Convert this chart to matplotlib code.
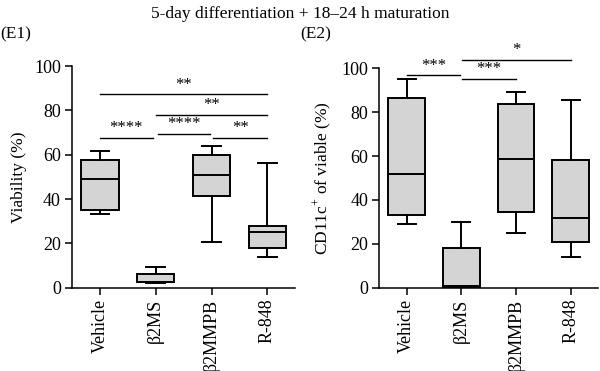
import matplotlib
matplotlib.use("Agg")
import matplotlib.pyplot as plt

plt.rcParams['font.family'] = ['Liberation Serif', 'DejaVu Serif']
plt.rcParams['mathtext.fontset'] = 'custom'
plt.rcParams['mathtext.rm'] = 'Liberation Serif'

groups = ['Vehicle', 'β2MS', 'β2MMPB', 'R-848']

# (whislo, q1, med, q3, whishi)
viability = [
    (33.1, 35.0, 49.2, 57.6, 61.8),
    (2.1, 2.5, 2.8, 6.3, 9.5),
    (20.6, 41.4, 51.0, 59.9, 63.9),
    (14.0, 17.8, 25.3, 27.8, 56.4),
]
cd11c = [
    (29.2, 33.0, 51.8, 86.6, 95.1),
    (0.0, 0.3, 0.6, 18.1, 29.9),
    (25.1, 34.5, 58.7, 83.7, 89.0),
    (14.0, 21.0, 31.8, 58.2, 85.7),
]

# significance: (i, j, y, label)
sig_viability = [
    (0, 3, 87.2, '**'),
    (1, 3, 78.0, '**'),
    (0, 0.95, 67.7, '****'),
    (1.05, 1.97, 69.5, '****'),
    (2.03, 3, 67.7, '**'),
]
sig_cd11c = [
    (0, 0.98, 96.8, '***'),
    (1.02, 2, 95.3, '***'),
    (1.02, 3, 103.8, '*'),
]


def draw_panel(ax, data, sigs, ylabel):
    stats = [dict(whislo=d[0], q1=d[1], med=d[2], q3=d[3], whishi=d[4], fliers=[])
             for d in data]
    ax.bxp(stats, positions=range(len(data)), widths=0.67, patch_artist=True,
           showfliers=False,
           boxprops=dict(facecolor='#d4d4d4', edgecolor='black', linewidth=1.4),
           medianprops=dict(color='black', linewidth=1.4),
           whiskerprops=dict(color='black', linewidth=1.4),
           capprops=dict(color='black', linewidth=1.4),
           capwidths=0.33)
    ax.set_xlim(-0.5, 3.5)
    ax.set_ylim(0, 100)
    ax.set_yticks([0, 20, 40, 60, 80, 100])
    ax.set_xticks(range(len(groups)))
    ax.set_xticklabels(groups, rotation=90)
    ax.set_ylabel(ylabel, fontsize=12.5, labelpad=5)
    for s in ['top', 'right']:
        ax.spines[s].set_visible(False)
    for s in ['left', 'bottom']:
        ax.spines[s].set_linewidth(1.1)
    ax.tick_params(labelsize=13, width=1.1, length=5, pad=3)
    for i, j, y, lab in sigs:
        ax.plot([i, j], [y, y], color='black', lw=1.0, clip_on=False)
        ax.text((i + j) / 2, y + 0.8, lab, ha='center', va='bottom', fontsize=12,
                clip_on=False)


fig = plt.figure(figsize=(6, 3.71), dpi=100)
ax1 = fig.add_axes([0.12, 0.2245, 0.372, 0.5975])
ax2 = fig.add_axes([0.632, 0.2245, 0.365, 0.5915])

draw_panel(ax1, viability, sig_viability, 'Viability (%)')
draw_panel(ax2, cd11c, sig_cd11c, 'CD11c$^{+}$ of viable (%)')

fig.text(0.5, 0.962, '5-day differentiation + 18–24 h maturation', ha='center',
         va='center', fontsize=12.5)
fig.text(0.0, 0.908, '(E1)', ha='left', va='center', fontsize=12.5)
fig.text(0.5, 0.908, '(E2)', ha='left', va='center', fontsize=12.5)

fig.savefig('out.png', dpi=100)
